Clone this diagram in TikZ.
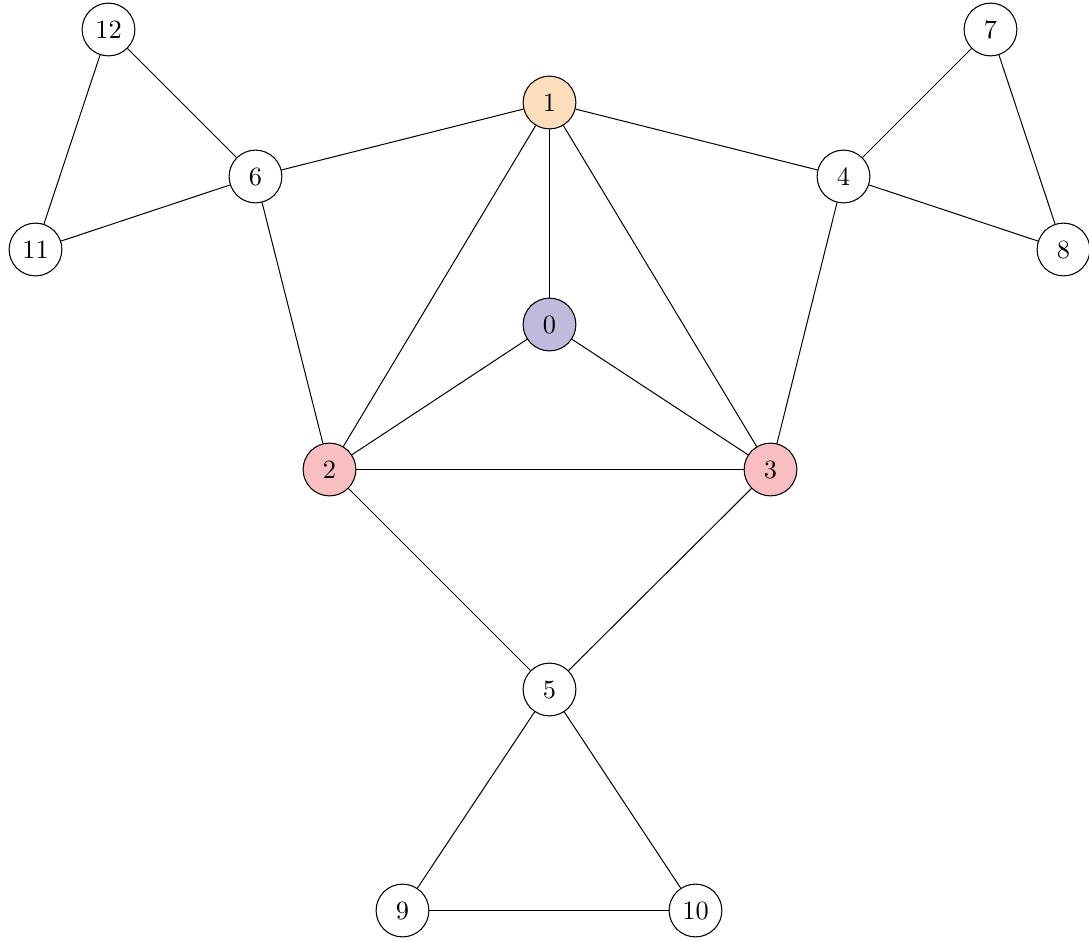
\documentclass[tikz,border=0pt]{standalone}
\usepackage{tikz}
\definecolor{cOrange}{RGB}{253,222,188}
\definecolor{cLav}{RGB}{190,187,220}
\definecolor{cPink}{RGB}{248,190,193}
\tikzset{
  vert/.style={circle,draw,line width=0.4pt,minimum size=20pt,inner sep=0pt,fill=white,font=\normalsize},
  edge/.style={line width=0.38pt}
}
\begin{document}
\begin{tikzpicture}[x=0.379pt,y=-0.379pt]
\useasboundingbox (0,0) rectangle (1089,940);
\begin{scope}[shift={(0.5,0.5)}]
\node[vert,fill=cLav] (n0) at (549,324) {0};
\node[vert,fill=cOrange] (n1) at (549,102) {1};
\node[vert,fill=cPink] (n2) at (329,469) {2};
\node[vert,fill=cPink] (n3) at (770,469) {3};
\node[vert] (n4) at (843,176) {4};
\node[vert] (n5) at (549,689) {5};
\node[vert] (n6) at (255,176) {6};
\node[vert] (n7) at (990,29) {7};
\node[vert] (n8) at (1063,249) {8};
\node[vert] (n9) at (402,910) {9};
\node[vert] (n10) at (695,910) {10};
\node[vert] (n11) at (35,249) {11};
\node[vert] (n12) at (108,29) {12};
\foreach \a/\b in {n1/n6,n1/n4,n1/n0,n1/n2,n1/n3,n0/n2,n0/n3,n2/n3,n6/n2,n4/n3,n6/n12,n6/n11,n11/n12,n4/n7,n4/n8,n7/n8,n2/n5,n3/n5,n5/n9,n5/n10,n9/n10}
  \draw[edge] (\a) -- (\b);
\end{scope}
\end{tikzpicture}
\end{document}
